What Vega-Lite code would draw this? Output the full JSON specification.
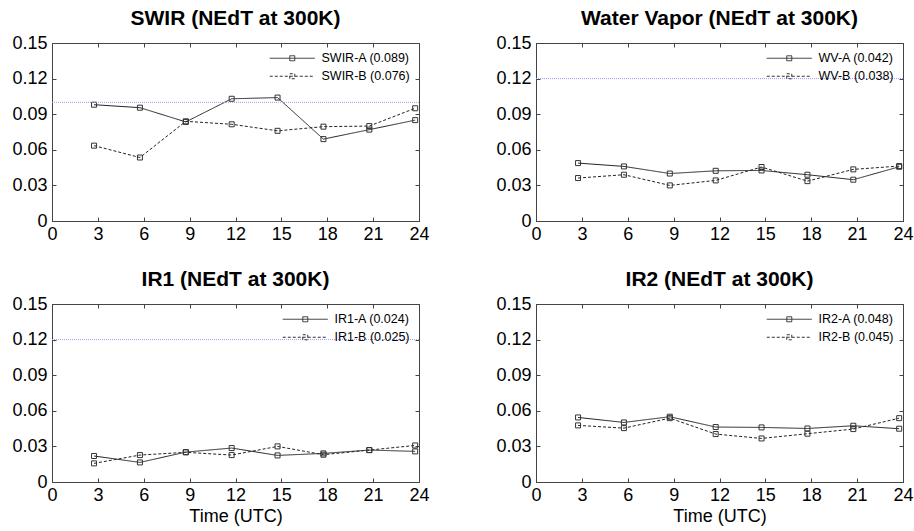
{
  "$schema": "https://vega.github.io/schema/vega-lite/v6.json",
  "background": "white",
  "padding": {"left": 11, "top": 7, "right": 0, "bottom": 0},
  "datasets": {
    "nedt": [
      {"p":"SWIR","s":"SWIR-A (0.089)","t":2.75,"v":0.098},
      {"p":"SWIR","s":"SWIR-A (0.089)","t":5.75,"v":0.0955},
      {"p":"SWIR","s":"SWIR-A (0.089)","t":8.75,"v":0.0835},
      {"p":"SWIR","s":"SWIR-A (0.089)","t":11.75,"v":0.103},
      {"p":"SWIR","s":"SWIR-A (0.089)","t":14.75,"v":0.104},
      {"p":"SWIR","s":"SWIR-A (0.089)","t":17.75,"v":0.069},
      {"p":"SWIR","s":"SWIR-A (0.089)","t":20.75,"v":0.077},
      {"p":"SWIR","s":"SWIR-A (0.089)","t":23.75,"v":0.085},
      {"p":"SWIR","s":"SWIR-B (0.076)","t":2.75,"v":0.0635},
      {"p":"SWIR","s":"SWIR-B (0.076)","t":5.75,"v":0.0535},
      {"p":"SWIR","s":"SWIR-B (0.076)","t":8.75,"v":0.084},
      {"p":"SWIR","s":"SWIR-B (0.076)","t":11.75,"v":0.0815},
      {"p":"SWIR","s":"SWIR-B (0.076)","t":14.75,"v":0.076},
      {"p":"SWIR","s":"SWIR-B (0.076)","t":17.75,"v":0.0795},
      {"p":"SWIR","s":"SWIR-B (0.076)","t":20.75,"v":0.080},
      {"p":"SWIR","s":"SWIR-B (0.076)","t":23.75,"v":0.095},
      {"p":"WV","s":"WV-A (0.042)","t":2.75,"v":0.0488},
      {"p":"WV","s":"WV-A (0.042)","t":5.75,"v":0.046},
      {"p":"WV","s":"WV-A (0.042)","t":8.75,"v":0.040},
      {"p":"WV","s":"WV-A (0.042)","t":11.75,"v":0.0423},
      {"p":"WV","s":"WV-A (0.042)","t":14.75,"v":0.0426},
      {"p":"WV","s":"WV-A (0.042)","t":17.75,"v":0.039},
      {"p":"WV","s":"WV-A (0.042)","t":20.75,"v":0.0348},
      {"p":"WV","s":"WV-A (0.042)","t":23.75,"v":0.0457},
      {"p":"WV","s":"WV-B (0.038)","t":2.75,"v":0.0362},
      {"p":"WV","s":"WV-B (0.038)","t":5.75,"v":0.039},
      {"p":"WV","s":"WV-B (0.038)","t":8.75,"v":0.030},
      {"p":"WV","s":"WV-B (0.038)","t":11.75,"v":0.0342},
      {"p":"WV","s":"WV-B (0.038)","t":14.75,"v":0.0455},
      {"p":"WV","s":"WV-B (0.038)","t":17.75,"v":0.0336},
      {"p":"WV","s":"WV-B (0.038)","t":20.75,"v":0.0435},
      {"p":"WV","s":"WV-B (0.038)","t":23.75,"v":0.0463},
      {"p":"IR1","s":"IR1-A (0.024)","t":2.75,"v":0.0219},
      {"p":"IR1","s":"IR1-A (0.024)","t":5.75,"v":0.0165},
      {"p":"IR1","s":"IR1-A (0.024)","t":8.75,"v":0.0252},
      {"p":"IR1","s":"IR1-A (0.024)","t":11.75,"v":0.0286},
      {"p":"IR1","s":"IR1-A (0.024)","t":14.75,"v":0.0224},
      {"p":"IR1","s":"IR1-A (0.024)","t":17.75,"v":0.0241},
      {"p":"IR1","s":"IR1-A (0.024)","t":20.75,"v":0.0269},
      {"p":"IR1","s":"IR1-A (0.024)","t":23.75,"v":0.0258},
      {"p":"IR1","s":"IR1-B (0.025)","t":2.75,"v":0.0157},
      {"p":"IR1","s":"IR1-B (0.025)","t":5.75,"v":0.0227},
      {"p":"IR1","s":"IR1-B (0.025)","t":8.75,"v":0.025},
      {"p":"IR1","s":"IR1-B (0.025)","t":11.75,"v":0.0227},
      {"p":"IR1","s":"IR1-B (0.025)","t":14.75,"v":0.030},
      {"p":"IR1","s":"IR1-B (0.025)","t":17.75,"v":0.023},
      {"p":"IR1","s":"IR1-B (0.025)","t":20.75,"v":0.0269},
      {"p":"IR1","s":"IR1-B (0.025)","t":23.75,"v":0.0308},
      {"p":"IR2","s":"IR2-A (0.048)","t":2.75,"v":0.0544},
      {"p":"IR2","s":"IR2-A (0.048)","t":5.75,"v":0.0502},
      {"p":"IR2","s":"IR2-A (0.048)","t":8.75,"v":0.055},
      {"p":"IR2","s":"IR2-A (0.048)","t":11.75,"v":0.0463},
      {"p":"IR2","s":"IR2-A (0.048)","t":14.75,"v":0.046},
      {"p":"IR2","s":"IR2-A (0.048)","t":17.75,"v":0.0451},
      {"p":"IR2","s":"IR2-A (0.048)","t":20.75,"v":0.0474},
      {"p":"IR2","s":"IR2-A (0.048)","t":23.75,"v":0.0449},
      {"p":"IR2","s":"IR2-B (0.045)","t":2.75,"v":0.0477},
      {"p":"IR2","s":"IR2-B (0.045)","t":5.75,"v":0.0454},
      {"p":"IR2","s":"IR2-B (0.045)","t":8.75,"v":0.0538},
      {"p":"IR2","s":"IR2-B (0.045)","t":11.75,"v":0.0404},
      {"p":"IR2","s":"IR2-B (0.045)","t":14.75,"v":0.0367},
      {"p":"IR2","s":"IR2-B (0.045)","t":17.75,"v":0.0407},
      {"p":"IR2","s":"IR2-B (0.045)","t":20.75,"v":0.0446},
      {"p":"IR2","s":"IR2-B (0.045)","t":23.75,"v":0.0538}
    ],
    "thresholds": [
      {"p":"SWIR","thr":0.1},
      {"p":"WV","thr":0.12},
      {"p":"IR1","thr":0.12}
    ]
  },
  "columns": 2,
  "spacing": {"row": 83, "column": 117},
  "bounds": "flush",
  "resolve": {"scale": {"strokeDash": "independent"}, "legend": {"strokeDash": "independent"}},
  "concat": [
    {
      "title": "SWIR (NEdT at 300K)",
      "width": 367, "height": 178,
      "resolve": {"axis": {"x": "independent", "y": "independent"}},
      "layer": [
        {
          "data": {"name": "nedt"},
          "transform": [{"filter": "datum.p === 'SWIR'"}],
          "mark": {"type": "line", "color": "#222", "strokeWidth": 1},
          "encoding": {
            "x": {"field": "t", "type": "quantitative", "scale": {"domain": [0, 24], "nice": false}, "axis": {"title": null, "values": [0,3,6,9,12,15,18,21,24], "tickSize": -4, "labelPadding": 8}},
            "y": {"field": "v", "type": "quantitative", "scale": {"domain": [0, 0.15], "nice": false, "zero": true}, "axis": {"title": null, "values": [0,0.03,0.06,0.09,0.12,0.15], "format": ".2~f", "tickSize": -4, "labelPadding": 9}},
            "strokeDash": {"field": "s", "type": "nominal", "scale": {"range": [[1,0],[3,2]]}, "legend": {"title": null}}
          }
        },
        {
          "data": {"name": "nedt"},
          "transform": [{"filter": "datum.p === 'SWIR'"}],
          "mark": {"type": "point", "shape": "square", "filled": false, "stroke": "#333", "strokeWidth": 1, "size": 25, "opacity": 1},
          "encoding": {
            "x": {"field": "t", "type": "quantitative", "axis": {"orient": "top", "title": null, "labels": false, "domain": false, "values": [0,3,6,9,12,15,18,21,24], "tickSize": -4}},
            "y": {"field": "v", "type": "quantitative", "axis": {"orient": "right", "title": null, "labels": false, "domain": false, "values": [0,0.03,0.06,0.09,0.12,0.15], "tickSize": -4}}
          }
        },
        {
          "data": {"name": "thresholds"},
          "transform": [{"filter": "datum.p === 'SWIR'"}],
          "mark": {"type": "rule", "color": "#9a9aff", "strokeWidth": 1, "strokeDash": [1, 1]},
          "encoding": {"y": {"field": "thr", "type": "quantitative", "axis": null}}
        }
      ]
    },
    {
      "title": "Water Vapor (NEdT at 300K)",
      "width": 367, "height": 178,
      "resolve": {"axis": {"x": "independent", "y": "independent"}},
      "layer": [
        {
          "data": {"name": "nedt"},
          "transform": [{"filter": "datum.p === 'WV'"}],
          "mark": {"type": "line", "color": "#222", "strokeWidth": 1},
          "encoding": {
            "x": {"field": "t", "type": "quantitative", "scale": {"domain": [0, 24], "nice": false}, "axis": {"title": null, "values": [0,3,6,9,12,15,18,21,24], "tickSize": -4, "labelPadding": 8}},
            "y": {"field": "v", "type": "quantitative", "scale": {"domain": [0, 0.15], "nice": false, "zero": true}, "axis": {"title": null, "values": [0,0.03,0.06,0.09,0.12,0.15], "format": ".2~f", "tickSize": -4, "labelPadding": 9}},
            "strokeDash": {"field": "s", "type": "nominal", "scale": {"range": [[1,0],[3,2]]}, "legend": {"title": null}}
          }
        },
        {
          "data": {"name": "nedt"},
          "transform": [{"filter": "datum.p === 'WV'"}],
          "mark": {"type": "point", "shape": "square", "filled": false, "stroke": "#333", "strokeWidth": 1, "size": 25, "opacity": 1},
          "encoding": {
            "x": {"field": "t", "type": "quantitative", "axis": {"orient": "top", "title": null, "labels": false, "domain": false, "values": [0,3,6,9,12,15,18,21,24], "tickSize": -4}},
            "y": {"field": "v", "type": "quantitative", "axis": {"orient": "right", "title": null, "labels": false, "domain": false, "values": [0,0.03,0.06,0.09,0.12,0.15], "tickSize": -4}}
          }
        },
        {
          "data": {"name": "thresholds"},
          "transform": [{"filter": "datum.p === 'WV'"}],
          "mark": {"type": "rule", "color": "#9a9aff", "strokeWidth": 1, "strokeDash": [1, 1]},
          "encoding": {"y": {"field": "thr", "type": "quantitative", "axis": null}}
        }
      ]
    },
    {
      "title": "IR1 (NEdT at 300K)",
      "width": 367, "height": 178,
      "resolve": {"axis": {"x": "independent", "y": "independent"}},
      "layer": [
        {
          "data": {"name": "nedt"},
          "transform": [{"filter": "datum.p === 'IR1'"}],
          "mark": {"type": "line", "color": "#222", "strokeWidth": 1},
          "encoding": {
            "x": {"field": "t", "type": "quantitative", "scale": {"domain": [0, 24], "nice": false}, "axis": {"title": "Time (UTC)", "values": [0,3,6,9,12,15,18,21,24], "tickSize": -4, "labelPadding": 8}},
            "y": {"field": "v", "type": "quantitative", "scale": {"domain": [0, 0.15], "nice": false, "zero": true}, "axis": {"title": null, "values": [0,0.03,0.06,0.09,0.12,0.15], "format": ".2~f", "tickSize": -4, "labelPadding": 9}},
            "strokeDash": {"field": "s", "type": "nominal", "scale": {"range": [[1,0],[3,2]]}, "legend": {"title": null}}
          }
        },
        {
          "data": {"name": "nedt"},
          "transform": [{"filter": "datum.p === 'IR1'"}],
          "mark": {"type": "point", "shape": "square", "filled": false, "stroke": "#333", "strokeWidth": 1, "size": 25, "opacity": 1},
          "encoding": {
            "x": {"field": "t", "type": "quantitative", "axis": {"orient": "top", "title": null, "labels": false, "domain": false, "values": [0,3,6,9,12,15,18,21,24], "tickSize": -4}},
            "y": {"field": "v", "type": "quantitative", "axis": {"orient": "right", "title": null, "labels": false, "domain": false, "values": [0,0.03,0.06,0.09,0.12,0.15], "tickSize": -4}}
          }
        },
        {
          "data": {"name": "thresholds"},
          "transform": [{"filter": "datum.p === 'IR1'"}],
          "mark": {"type": "rule", "color": "#9a9aff", "strokeWidth": 1, "strokeDash": [1, 1]},
          "encoding": {"y": {"field": "thr", "type": "quantitative", "axis": null}}
        }
      ]
    },
    {
      "title": "IR2 (NEdT at 300K)",
      "width": 367, "height": 178,
      "resolve": {"axis": {"x": "independent", "y": "independent"}},
      "layer": [
        {
          "data": {"name": "nedt"},
          "transform": [{"filter": "datum.p === 'IR2'"}],
          "mark": {"type": "line", "color": "#222", "strokeWidth": 1},
          "encoding": {
            "x": {"field": "t", "type": "quantitative", "scale": {"domain": [0, 24], "nice": false}, "axis": {"title": "Time (UTC)", "values": [0,3,6,9,12,15,18,21,24], "tickSize": -4, "labelPadding": 8}},
            "y": {"field": "v", "type": "quantitative", "scale": {"domain": [0, 0.15], "nice": false, "zero": true}, "axis": {"title": null, "values": [0,0.03,0.06,0.09,0.12,0.15], "format": ".2~f", "tickSize": -4, "labelPadding": 9}},
            "strokeDash": {"field": "s", "type": "nominal", "scale": {"range": [[1,0],[3,2]]}, "legend": {"title": null}}
          }
        },
        {
          "data": {"name": "nedt"},
          "transform": [{"filter": "datum.p === 'IR2'"}],
          "mark": {"type": "point", "shape": "square", "filled": false, "stroke": "#333", "strokeWidth": 1, "size": 25, "opacity": 1},
          "encoding": {
            "x": {"field": "t", "type": "quantitative", "axis": {"orient": "top", "title": null, "labels": false, "domain": false, "values": [0,3,6,9,12,15,18,21,24], "tickSize": -4}},
            "y": {"field": "v", "type": "quantitative", "axis": {"orient": "right", "title": null, "labels": false, "domain": false, "values": [0,0.03,0.06,0.09,0.12,0.15], "tickSize": -4}}
          }
        }
      ]
    }
  ],
  "config": {
    "font": "Liberation Sans",
    "view": {"stroke": "#444", "strokeWidth": 1},
    "title": {"font": "Liberation Sans", "fontSize": 21, "fontWeight": "bold", "color": "#000", "offset": 5, "anchor": "middle"},
    "axis": {
      "grid": false,
      "labelFont": "Liberation Sans",
      "labelFontSize": 18,
      "labelColor": "#000",
      "labelFlush": false,
      "labelOverlap": false,
      "titleFont": "Liberation Sans",
      "titleFontSize": 18,
      "titleFontWeight": "normal",
      "titleColor": "#000",
      "titlePadding": 3,
      "domainColor": "#444",
      "tickColor": "#444"
    },
    "legend": {
      "orient": "top-right",
      "offset": 9,
      "padding": 0,
      "symbolType": "M-4.5,0H4.5M-0.5,-0.5H0.5V0.5H-0.5Z",
      "symbolSize": 100,
      "symbolStrokeColor": "#333",
      "symbolStrokeWidth": 1,
      "symbolFillColor": "transparent",
      "labelFont": "Liberation Sans",
      "labelFontSize": 12.5,
      "labelColor": "#000",
      "labelOffset": 23,
      "rowPadding": 5
    }
  }
}
